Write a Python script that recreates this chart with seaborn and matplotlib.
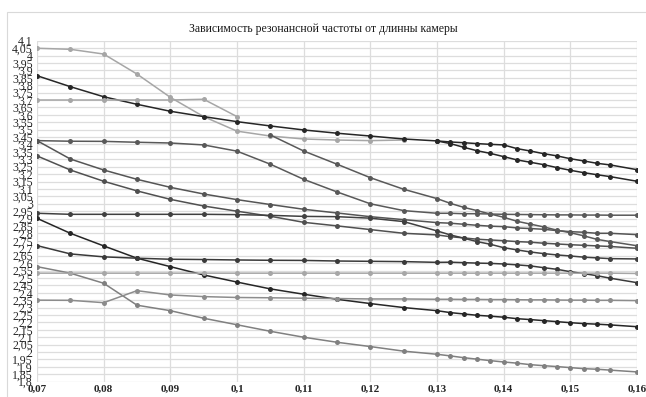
import matplotlib

matplotlib.use("Agg")
import matplotlib.pyplot as plt
import numpy as np
import pandas as pd
import seaborn as sns
from matplotlib.patches import Rectangle
from matplotlib.ticker import FixedLocator, FuncFormatter

# chamber length, m (step 0.005 up to 0.13, then 0.002)
x_len = [0.07, 0.075, 0.08, 0.085, 0.09, 0.095, 0.1, 0.105, 0.11, 0.115, 0.12, 0.125,
         0.13, 0.132, 0.134, 0.136, 0.138, 0.14, 0.142, 0.144, 0.146, 0.148, 0.15,
         0.152, 0.154, 0.156, 0.16]
N = None

s_a = [4.049, 4.042, 4.01, 3.875, 3.718, 3.588, 3.49, 3.457, 3.437, 3.43, 3.426, 3.43] + [N] * 15
s_b = [3.864, 3.79, 3.722, 3.671, 3.624, 3.588, 3.554, 3.525, 3.498, 3.476, 3.457, 3.437,
       3.424, 3.417, 3.412, 3.406, 3.401, 3.397, 3.372, 3.356, 3.338, 3.323, 3.304,
       3.289, 3.273, 3.262, 3.23]
s_c = [3.70, 3.70, 3.70, 3.70, 3.70, 3.705, 3.588] + [N] * 20
s_d = [3.426, 3.422, 3.421, 3.415, 3.41, 3.397, 3.355, 3.267, 3.165, 3.08, 3.0, 2.954,
       2.936, 2.936, 2.933, 2.933, 2.931, 2.929, 2.928, 2.927, 2.926, 2.925, 2.925,
       2.924, 2.924, 2.923, 2.923]
s_e = [3.426, 3.302, 3.228, 3.165, 3.111, 3.066, 3.028, 2.995, 2.963, 2.938, 2.913, 2.893,
       2.873, 2.869, 2.862, 2.855, 2.849, 2.846, 2.837, 2.833, 2.828, 2.819, 2.812,
       2.808, 2.801, 2.801, 2.792]
s_f = [3.323, 3.228, 3.152, 3.087, 3.03, 2.985, 2.95, 2.916, 2.875, 2.851, 2.826, 2.801,
       2.79, 2.778, 2.77, 2.761, 2.756, 2.751, 2.745, 2.741, 2.734, 2.729, 2.724,
       2.72, 2.716, 2.712, 2.70]
s_g = [2.936, 2.929, 2.929, 2.929, 2.929, 2.929, 2.927, 2.922, 2.915, 2.913, 2.903, 2.88,
       2.817, 2.79, 2.768, 2.745, 2.727, 2.704, 2.689, 2.675, 2.664, 2.655, 2.648,
       2.64, 2.635, 2.63, 2.628]
s_h = [2.902, 2.801, 2.716, 2.633, 2.576, 2.52, 2.472, 2.426, 2.39, 2.356, 2.327, 2.3,
       2.279, 2.266, 2.257, 2.248, 2.242, 2.235, 2.225, 2.219, 2.212, 2.205, 2.198,
       2.192, 2.188, 2.183, 2.171]
s_i = [2.718, 2.662, 2.642, 2.633, 2.626, 2.624, 2.621, 2.619, 2.618, 2.614, 2.612, 2.61,
       2.605, 2.606, 2.603, 2.6, 2.598, 2.594, 2.588, 2.581, 2.569, 2.558, 2.542,
       2.529, 2.515, 2.498, 2.468]
s_j = [2.576, 2.532, 2.464, 2.316, 2.279, 2.228, 2.184, 2.14, 2.1, 2.066, 2.037, 2.006,
       1.985, 1.974, 1.962, 1.952, 1.942, 1.933, 1.925, 1.915, 1.908, 1.902, 1.895,
       1.888, 1.884, 1.878, 1.866]
s_k = [2.532] * 26 + [2.53]
s_l = [2.35, 2.349, 2.333, 2.414, 2.385, 2.374, 2.368, 2.366, 2.363, 2.361, 2.358, 2.358,
       2.356, 2.356, 2.355, 2.355, 2.354, 2.354, 2.353, 2.352, 2.352, 2.351, 2.35,
       2.35, 2.349, 2.349, 2.347]
s_m = [N] * 7 + [3.464, 3.356, 3.267, 3.176, 3.098, 3.035, 3.003, 2.976, 2.954, 2.931,
                 2.909, 2.882, 2.863, 2.844, 2.822, 2.805, 2.784, 2.76, 2.745, 2.717]
s_n = [N] * 12 + [3.424, 3.406, 3.381, 3.358, 3.34, 3.318, 3.296, 3.28, 3.264, 3.244,
                  3.226, 3.21, 3.196, 3.183, 3.152]

series = {"a": s_a, "b": s_b, "c": s_c, "d": s_d, "e": s_e, "f": s_f, "g": s_g,
          "h": s_h, "i": s_i, "j": s_j, "k": s_k, "l": s_l, "m": s_m, "n": s_n}
colors = {"a": "#a6a6a6", "b": "#262626", "c": "#a6a6a6", "d": "#595959",
          "e": "#555555", "f": "#505050", "g": "#404040", "h": "#262626",
          "i": "#3a3a3a", "j": "#808080", "k": "#a6a6a6", "l": "#8c8c8c",
          "m": "#595959", "n": "#262626"}

rows = []
for name, vals in series.items():
    for xv, yv in zip(x_len, vals):
        if yv is not None:
            rows.append((name, xv, yv))
df = pd.DataFrame(rows, columns=["series", "x", "y"])

sns.set_style("white")
plt.rcParams["font.family"] = ["Liberation Serif", "DejaVu Serif"]

fig = plt.figure(figsize=(6.46, 3.97), dpi=100)
ax = fig.add_axes([37 / 646, 1 - 381.7 / 397, 600 / 646, 341 / 397])

sns.lineplot(data=df, x="x", y="y", hue="series", palette=colors, estimator=None,
             marker="o", markersize=3.6, markeredgewidth=0, linewidth=1.1,
             legend=False, ax=ax)

ax.set_xlim(0.07, 0.16)
ax.set_ylim(1.8, 4.1)
ax.xaxis.set_major_locator(FixedLocator(np.round(np.arange(0.07, 0.1601, 0.01), 2)))
ax.yaxis.set_major_locator(FixedLocator(np.round(np.arange(1.8, 4.1001, 0.05), 2)))


def comma(v, pos):
    s = f"{v:.2f}".rstrip("0").rstrip(".")
    return s.replace(".", ",")


ax.xaxis.set_major_formatter(FuncFormatter(comma))
ax.yaxis.set_major_formatter(FuncFormatter(comma))
ax.tick_params(axis="x", length=0, pad=2.5, labelsize=8, labelcolor="#262626")
ax.tick_params(axis="y", length=0, pad=3, labelsize=8.5, labelcolor="#262626")
for t in ax.get_xticklabels():
    t.set_fontweight("bold")
ax.grid(True, color="#dddddd", linewidth=0.9)
ax.set_axisbelow(True)
for sp in ax.spines.values():
    sp.set_visible(False)
ax.set_xlabel("")
ax.set_ylabel("")

fig.text(0.5, 1 - 29 / 397, "Зависимость резонансной частоты от длинны камеры",
         ha="center", va="center", fontsize=8.5, color="#1a1a1a")

fig.patches.append(Rectangle((7 / 646, -0.1), 1.2, 1.1 - 12 / 397,
                             transform=fig.transFigure, fill=False,
                             edgecolor="#d9d9d9", linewidth=0.8))

fig.savefig("out.png", dpi=100, facecolor="white")
